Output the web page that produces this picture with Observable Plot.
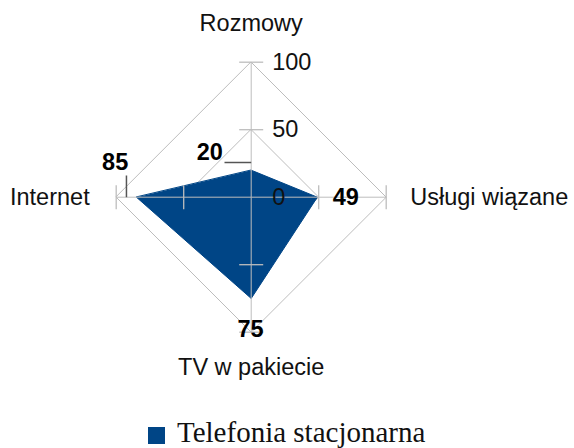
<!DOCTYPE html>
<html>
<head>
<meta charset="utf-8">
<script src="https://cdn.jsdelivr.net/npm/d3@7"></script>
<script src="https://cdn.jsdelivr.net/npm/@observablehq/plot@0.6"></script>
<style>
  html, body { margin: 0; padding: 0; background: #fff; overflow: hidden; }
  #wrap { position: relative; width: 574px; height: 448px; }
  #chart { position: absolute; left: 0; top: 0; }
  #legend-swatch { position: absolute; left: 148px; top: 427px; width: 17px; height: 17px; background: #004586; }
  #legend-text { position: absolute; left: 177px; top: 418px; font-family: "Liberation Serif", "Times New Roman", serif; font-size: 29px; line-height: 29px; color: #111; white-space: nowrap; }
</style>
</head>
<body>
<div id="wrap">
  <div id="chart"></div>
  <div id="legend-swatch"></div>
  <div id="legend-text"></div>
</div>
<script>
// ---- data ----
const categories = ["Rozmowy", "Usługi wiązane", "TV w pakiecie", "Internet"];
const values = [20, 49, 75, 85];
const gridLevels = [50, 100];
const tickValues = [0, 50, 100];
const tickLabels = ["0", "50", "100"];
const seriesName = "Telefonia stacjonarna";

// ---- layout ----
const W = 574, H = 410;
const cx = 250.7, cy = 196.7, k = 1.35; // pixels per unit
const px = n => n / k;
const color = "#004586";
const gridColor = "#bdbdbd";
const font = "Liberation Sans, Arial, sans-serif";
const fs = 23.5;

const dirs = categories.map((c, i) => {
  const a = i * Math.PI / 2;
  return [Math.round(Math.sin(a)), Math.round(Math.cos(a))];
});

// polygon
const poly = values.map((v, i) => ({x: v * dirs[i][0], y: v * dirs[i][1], v, cat: categories[i]}));

// grid diamonds
const gridPts = [];
gridLevels.forEach(L => {
  dirs.forEach(d => gridPts.push({x: L * d[0], y: L * d[1], L}));
});

// spokes
const spokes = dirs.map(d => ({x1: 0, y1: 0, x2: 100 * d[0], y2: 100 * d[1]}));

// tick marks
const tl = px(12);
const ticks = [];
dirs.forEach(d => {
  gridLevels.forEach(L => {
    const bx = L * d[0], by = L * d[1];
    const p = [d[1], -d[0]];
    ticks.push({x1: bx - p[0] * tl, y1: by - p[1] * tl, x2: bx + p[0] * tl, y2: by + p[1] * tl});
  });
});

// tick labels on first axis
const tickTexts = tickValues.map((v, i) => ({x: v * dirs[0][0], y: v * dirs[0][1], label: tickLabels[i]}));

// category labels
const catOffsets = [
  {dx: 0, dy: -38.5, anchor: "middle"},
  {dx: 24, dy: 0, anchor: "start"},
  {dx: 0, dy: 35, anchor: "middle"},
  {dx: -26.5, dy: 0, anchor: "end"}
];
const catTexts = categories.map((c, i) => ({x: 100 * dirs[i][0], y: 100 * dirs[i][1], label: c, ...catOffsets[i]}));

// data label offsets (px)
const valOffsets = [
  {dx: -41.5, dy: -17.7},
  {dx: 28.5, dy: 0},
  {dx: -0.7, dy: 30.6},
  {dx: -21.3, dy: -35}
];
const valTexts = poly.map((p, i) => ({x: p.x, y: p.y, label: String(p.v), ...valOffsets[i]}));

// leader lines
const leaders = [
  {x1: poly[0].x - px(26.7), y1: poly[0].y + px(7.7), x2: poly[0].x, y2: poly[0].y + px(7.7)},
  {x1: poly[3].x - px(10), y1: poly[3].y + px(21.7), x2: poly[3].x - px(10), y2: poly[3].y}
];

const textMarks = (arr, opts) => arr.map(t => Plot.text([t], {
  x: "x", y: "y", text: "label", dx: t.dx || 0, dy: t.dy || 0,
  textAnchor: t.anchor || opts.anchor || "middle", ...opts
}));

const chart = Plot.plot({
  width: W, height: H,
  margin: 0,
  x: {domain: [-cx / k, (W - cx) / k], range: [0, W], axis: null},
  y: {domain: [-(H - cy) / k, cy / k], range: [H, 0], axis: null},
  style: {fontFamily: font, background: "#fff"},
  marks: [
    Plot.line(gridPts, {x: "x", y: "y", z: "L", curve: "linear-closed", stroke: gridColor, strokeWidth: 1}),
    Plot.line(poly, {x: "x", y: "y", curve: "linear-closed", fill: color, stroke: color, strokeWidth: 1}),
    Plot.link(spokes, {x1: "x1", y1: "y1", x2: "x2", y2: "y2", stroke: gridColor, strokeWidth: 1}),
    Plot.link(ticks, {x1: "x1", y1: "y1", x2: "x2", y2: "y2", stroke: gridColor, strokeWidth: 1.3}),
    Plot.link(leaders, {x1: "x1", y1: "y1", x2: "x2", y2: "y2", stroke: "#555", strokeWidth: 1.5}),
    Plot.text(tickTexts, {x: "x", y: "y", text: "label", dx: 21, textAnchor: "start", fontSize: fs, fill: "#111"}),
    ...textMarks(catTexts, {fontSize: fs, fill: "#111"}),
    ...textMarks(valTexts, {fontSize: fs, fontWeight: "bold", fill: "#000"})
  ]
});
document.getElementById("chart").appendChild(chart);
document.getElementById("legend-text").textContent = seriesName;
</script>
</body>
</html>
